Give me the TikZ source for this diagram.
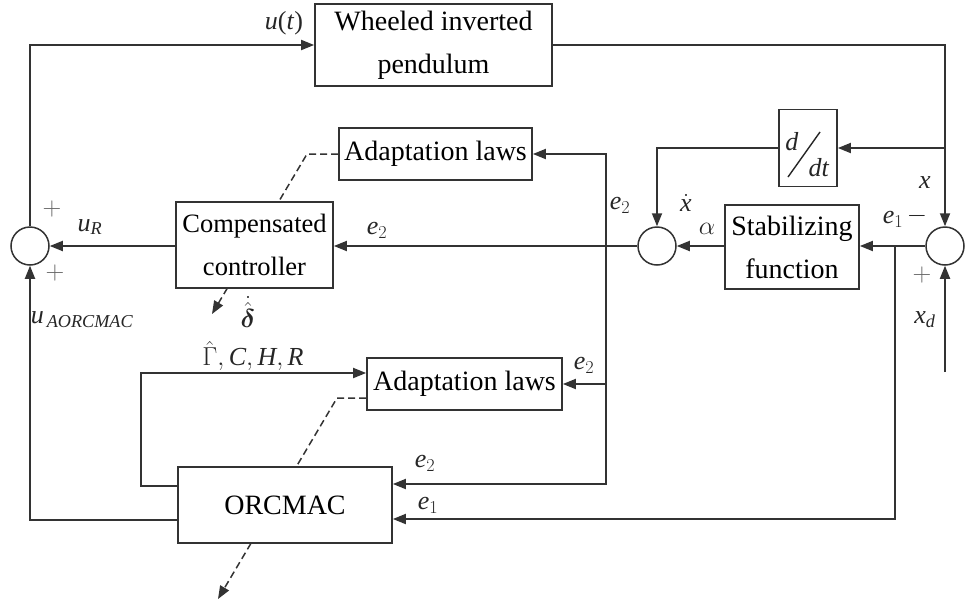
\RequirePackage{fix-cm}
\documentclass[tikz,border=0pt]{standalone}
\usepackage{amsmath,bm}
\usepackage{fontspec}
\setmainfont{Liberation Serif}
\usetikzlibrary{arrows.meta,backgrounds}

\begin{document}
\begin{tikzpicture}[x=1pt,y=-1pt,
  blk/.style={draw=black!80, line width=1.7pt, fill=white, align=center,
    inner sep=0pt, font=\fontsize{28}{43}\selectfont},
  sumj/.style={circle, draw=black!80, line width=1.5pt, minimum size=38pt,
    inner sep=0pt, fill=white},
  wire/.style={draw=black!80, line width=1.8pt},
  tip/.style={-{Triangle[length=13pt,width=10pt]}},
  arr/.style={wire, tip},
  dsh/.style={draw=black!80, line width=1.5pt, dash pattern=on 7pt off 4pt, tip},
  lbl/.style={font=\fontsize{26}{30}\selectfont, inner sep=0pt, text=black!85},
  sgn/.style={font=\fontsize{26}{30}\selectfont, inner sep=0pt, text=black!60}
]
\useasboundingbox (0,0) rectangle (967,606);

% blocks
\node[blk, minimum width=237pt, minimum height=82pt] (wip) at (433.5,45) {Wheeled inverted\\pendulum};
\node[blk, minimum width=193pt, minimum height=52pt] (ad1) at (435.5,154) {Adaptation laws};
\node[blk, minimum width=58pt, minimum height=77pt] (ddt) at (808,148) {};
\node[blk, minimum width=134pt, minimum height=84pt] (stab) at (792,247) {Stabilizing\\function};
\node[blk, minimum width=157pt, minimum height=86pt, font=\fontsize{26.5}{43}\selectfont] (comp) at (254.5,245) {Compensated\\controller};
\node[blk, minimum width=195pt, minimum height=52pt] (ad2) at (464.5,384) {Adaptation laws};
\node[blk, minimum width=214pt, minimum height=76pt] (orc) at (285,505) {ORCMAC};

% d/dt operator
\node[lbl] (dnum) at (792,142) {\textit{d}};
\node[lbl] (dden) at (819,168) {\textit{dt}};
\draw[black!85, line width=1.4pt] (788,177) -- (820,132);

% summing junctions
\node[sumj] (s1) at (30,246) {};
\node[sumj] (s2) at (657,246) {};
\node[sumj] (s3) at (945,246) {};

% branch points and free ends
\coordinate (tapx) at (945,148);
\coordinate (b2) at (606,246);
\coordinate (b1) at (895,246);
\coordinate (xd) at (945,372);

% signal flow
\draw[arr] (wip.east) -- (wip.east -| s3) -- (s3.north);
\draw[arr] (tapx) -- (ddt.east);
\draw[arr] (ddt.west) -| (s2.north);
\draw[arr] (s3.west) -- (s3.west -| stab.east);
\draw[arr] (stab.west |- s2) -- (s2.east);
\draw[arr] (s2.west) -- (s2.west -| comp.east);
\draw[arr] (b2) |- (ad1.east);
\draw[arr] (b2) |- ([yshift=21pt]orc.east);
\draw[arr] (b2 |- ad2.east) -- (ad2.east);
\draw[arr] (b1) |- ([yshift=-14pt]orc.east);
\draw[arr] (comp.west |- s1) -- (s1.east);
\draw[arr] (s1.north) |- (wip.west);
\draw[arr] ([yshift=-15pt]orc.west) -| (s1.south);
\draw[arr] ([yshift=19pt]orc.west) -- ++(-36,0) |- ([yshift=11pt]ad2.west);
\draw[arr] (xd) -- (s3.south);

% parameter update paths (dashed)
\begin{scope}[on background layer]
\draw[dsh] (ad1.west) -- (307,154) -- (212,314);
\draw[dsh] ([yshift=-14pt]ad2.west) -- (337,398) -- (218,599);
\end{scope}

% labels
\node[lbl] (lut) at (284,23) {\textit{u}(\textit{t})};
\node[lbl] (le2v) at (620,205) {$\mathit{e}_2$};
\node[lbl] (lxd) at (686,203) {$\dot{\mathit{x}}$};
\node[lbl] (lal) at (707,229) {$\alpha$};
\node[lbl] (lx) at (925,183) {$\mathit{x}$};
\node[lbl] (le1) at (893,219) {$\mathit{e}_1$};
\node[lbl] (lmin) at (917,216) {$-$};
\node[sgn] (lp3) at (922,275) {$+$};
\node[lbl] (lxdd) at (925,320) {$\mathit{x}_{\mathit{d}}$};
\node[lbl] (le2h) at (377,230) {$\mathit{e}_2$};
\node[sgn] (lp1) at (52,209) {$+$};
\node[lbl] (lur) at (90,227) {$\mathit{u}_{\mathit{R}}$};
\node[sgn] (lp2) at (55,273) {$+$};
\node[lbl] (lua) at (82,320) {$\mathit{u}_{\,\mathit{AORCMAC}}$};
\node[lbl] (ldel) at (248,312) {$\dot{\hat{\bm{\delta}}}$};
\node[lbl] (lgam) at (253,356) {$\hat{\Gamma},\mathit{C},\mathit{H},\mathit{R}$};
\node[lbl] (le2a) at (584,365) {$\mathit{e}_2$};
\node[lbl] (le2o) at (425,463) {$\mathit{e}_2$};
\node[lbl] (le1o) at (428,505) {$\mathit{e}_1$};
\end{tikzpicture}
\end{document}
